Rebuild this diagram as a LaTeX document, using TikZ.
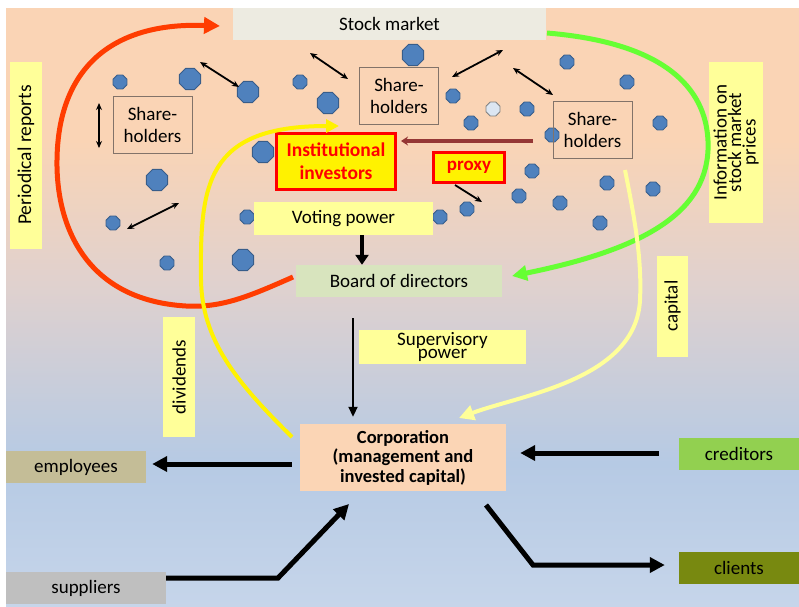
\documentclass[tikz,border=0pt]{standalone}
\usepackage{fontspec}
\setmainfont{Carlito}
\usetikzlibrary{arrows.meta,shapes.geometric}
\definecolor{bgtop}{RGB}{250,212,181}
\definecolor{bgmid}{RGB}{224,209,206}
\definecolor{bgblue}{RGB}{182,202,228}
\definecolor{bgbot}{RGB}{198,213,234}
\definecolor{lblyellow}{RGB}{255,255,153}
\definecolor{stockfill}{RGB}{237,235,225}
\definecolor{boardfill}{RGB}{216,228,190}
\definecolor{corpfill}{RGB}{251,213,181}
\definecolor{empfill}{RGB}{196,189,151}
\definecolor{credfill}{RGB}{146,208,80}
\definecolor{suppfill}{RGB}{191,191,191}
\definecolor{clifill}{RGB}{120,137,16}
\definecolor{dotfill}{RGB}{79,129,189}
\definecolor{dotline}{RGB}{56,93,138}
\definecolor{shline}{RGB}{130,115,105}
\definecolor{redcurve}{RGB}{255,60,0}
\definecolor{greencurve}{RGB}{102,255,51}
\definecolor{brownline}{RGB}{149,55,53}
\pgfdeclareverticalshading{slidebg}{100bp}{color(0bp)=(bgbot); color(25bp)=(bgbot); color(37bp)=(bgblue); color(52bp)=(bgmid); color(64bp)=(bgtop); color(75bp)=(bgtop); color(100bp)=(bgtop)}
\tikzset{
  lbl/.style={fill=lblyellow, inner sep=0pt, font=\fontsize{19}{19}\selectfont, align=center},
  plainbox/.style={inner sep=0pt, font=\fontsize{19}{22}\selectfont, align=center},
  shbox/.style={draw=shline, line width=0.8pt, inner sep=0pt, minimum width=79pt, minimum height=57pt, font=\fontsize{19}{22}\selectfont, align=center},
  sdot/.style={regular polygon, regular polygon sides=8, fill=dotfill, draw=dotline, line width=0.8pt, minimum size=15pt, inner sep=0pt},
  bdot/.style={regular polygon, regular polygon sides=8, fill=dotfill, draw=dotline, line width=0.8pt, minimum size=23pt, inner sep=0pt},
  dbl/.style={{Stealth[length=7pt,width=6pt]}-{Stealth[length=7pt,width=6pt]}, line width=1.8pt},
  thick arrow/.style={line width=5pt, -{Triangle[length=15pt,width=15pt]}},
}
\begin{document}
\begin{tikzpicture}[x=1pt,y=-1pt]
\useasboundingbox (0,0) rectangle (799,606);
\fill[white] (0,0) rectangle (799,606);
\shade[shading=slidebg] (6,8) rectangle (799,606);

% dots
\foreach \p in {(120,82),(300,82),(113,223),(247,217),(167,263),(453,96),(527,109),(471,123),(552,135),(567,62),(627,82),(660,123),(532,171),(607,183),(653,189),(519,196),(560,203),(600,223),(467,209),(440,217)}
  \node[sdot] at \p {};
\foreach \p in {(190,79),(248,92),(328,103),(263,152),(157,180),(243,260),(413,55)}
  \node[bdot] at \p {};
\node[sdot, fill=white!80!dotfill, draw=gray] (gdot) at (493,109) {};

% boxes
\node[plainbox, fill=stockfill, minimum width=313pt, minimum height=32pt] (stock) at (389.5,24) {Stock market};
\node[lbl, minimum width=32pt, minimum height=187pt] (periodic) at (26,155) {};
\node[font=\fontsize{19.5}{19}\selectfont, rotate=90] at (periodic) {Periodical reports};
\node[lbl, minimum width=54pt, minimum height=161pt] (info) at (736,142.5) {};
\node[font=\fontsize{19}{14.5}\selectfont, rotate=90, align=center] at (info) {Information on\\stock market\\prices};
\node[shbox] (sh1) at (152.5,125) {Share-\\holders};
\node[shbox, minimum width=79pt] (sh2) at (399,95.5) {Share-\\holders};
\node[shbox] (sh3) at (592.5,129.5) {Share-\\holders};
\node[draw=red, line width=3pt, fill=yellow, text=red, inner sep=0pt, minimum width=119pt, minimum height=56pt, font=\bfseries\fontsize{19.5}{23}\selectfont, align=center] (inst) at (336,161.5) {Institutional\\investors};
\node[draw=red, line width=3pt, fill=yellow, text=red, inner sep=0pt, minimum width=71pt, minimum height=30pt, font=\bfseries\fontsize{19}{19}\selectfont] (proxy) at (469,167.5) {proxy};
\node[lbl, minimum width=179pt, minimum height=33pt] (voting) at (343.5,218.5) {Voting power};
\node[plainbox, fill=boardfill, minimum width=206pt, minimum height=32pt] (board) at (399,281) {Board of directors};
\node[lbl, minimum width=167pt, minimum height=34pt, font=\fontsize{19}{13}\selectfont] (superv) at (442.5,347) {Supervisory\\power};
\node[lbl, minimum width=31pt, minimum height=101pt] (capital) at (672.5,306) {};
\node[font=\fontsize{19}{19}\selectfont, rotate=90] at (capital) {capital};
\node[lbl, minimum width=32pt, minimum height=120pt] (divid) at (179,377) {};
\node[font=\fontsize{19}{19}\selectfont, rotate=90] at (divid) {dividends};
\node[plainbox, fill=corpfill, minimum width=206pt, minimum height=67pt, font=\bfseries\fontsize{18.5}{19.5}\selectfont] (corp) at (403,457.5) {Corporation\\(management and\\invested capital)};
\node[plainbox, fill=empfill, minimum width=140pt, minimum height=32pt] (emp) at (76,467) {employees};
\node[plainbox, fill=credfill, minimum width=120pt, minimum height=32pt] (cred) at (739,453.5) {creditors};
\node[plainbox, fill=suppfill, minimum width=160pt, minimum height=32pt] (supp) at (86,588) {suppliers};
\node[plainbox, fill=clifill, minimum width=120pt, minimum height=32pt] (cli) at (739,567.5) {clients};

% small double arrows
\draw[dbl] (99,103) -- (99,148);
\draw[dbl] (200,62) -- (239,87);
\draw[dbl] (310,53) -- (348,79);
\draw[dbl] (452,77) -- (503,50);
\draw[dbl] (513,68) -- (553,95);
\draw[dbl] (127,229) -- (179,203);
\draw[line width=1.8pt, -{Stealth[length=7pt,width=6pt]}] (proxy.south) ++(-14,1) -- (482,202);

% brown arrow sh3 -> inst
\coordinate (brownA) at (533,141);
\coordinate (brownB) at (401,141);
\draw[brownline, line width=3.5pt, -{Stealth[length=7pt,width=9pt]}] (brownA) -- (brownB);

% voting -> board
\draw[line width=3.5pt, -{Triangle[length=10pt,width=13pt]}] (voting.south -| 362,0) -- (board.north -| 362,0);
% board -> corp
\draw[line width=1.8pt, -{Triangle[length=10pt,width=9pt]}] ([yshift=-21pt]board.south -| 353,0) -- ([yshift=7pt]corp.north -| 353,0);

% big arrows
\draw[thick arrow] ([xshift=-8pt]corp.west |- 0,464) -- ([xshift=6pt]emp.east |- 0,464);
\draw[thick arrow] ([xshift=-20pt]cred.west |- 0,453) -- ([xshift=14pt]corp.east |- 0,453);
\coordinate (skink) at (278,578);
\draw[thick arrow] (supp.east |- 0,578) -- (skink) -- (349,504);
\coordinate (ckink) at (533,565);
\draw[thick arrow] (486,505) -- (ckink) -- ([xshift=-14pt]cli.west |- 0,565);

% curves
\draw[redcurve, line width=5pt, -{Triangle[length=16pt,width=16pt]}] (293,277) .. controls (250,296) and (222,308) .. (186,306) .. controls (85,300) and (56,225) .. (57,160) .. controls (58,70) and (110,22) .. (220,26);
\draw[yellow, line width=4pt, -{Triangle[length=13pt,width=13pt]}] (292,437) .. controls (236,382) and (202,340) .. (201,280) .. controls (200,185) and (205,126) .. (339,126);
\draw[greencurve, line width=5pt, -{Triangle[length=15pt,width=15pt]}] (547,33) .. controls (680,44) and (710,100) .. (708,150) .. controls (705,215) and (640,250) .. (512,276);
\draw[lblyellow, line width=4pt, -{Triangle[length=15pt,width=15pt]}] (625,170) .. controls (635,220) and (642,260) .. (640,300) .. controls (636,380) and (520,395) .. (459,418);
\end{tikzpicture}
\end{document}
